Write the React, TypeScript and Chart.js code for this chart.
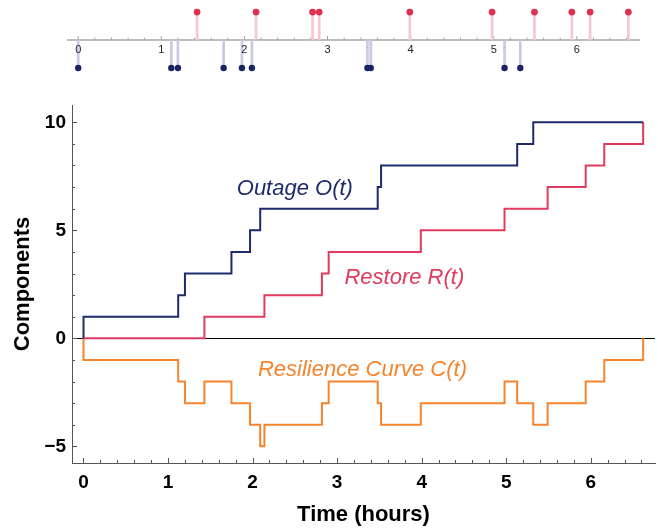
import React, { useEffect, useRef } from 'react';
import { Chart, registerables } from 'chart.js';

Chart.register(...registerables);

// ---- data (hours) ----
const outageTimes = [0, 1.12, 1.2, 1.75, 1.97, 2.09, 3.48, 3.52, 5.13, 5.32];
const restoreTimes = [1.43, 2.14, 2.82, 2.9, 3.99, 4.98, 5.49, 5.94, 6.16, 6.62];

const outageStepTimes = [0, 0, 1.12, 1.2, 1.75, 1.97, 2.09, 3.48, 3.52, 5.13, 5.32, 6.62];
const outageStepValues = [0, 1, 2, 3, 4, 5, 6, 7, 8, 9, 10, 10];

const restoreStepTimes = [0, 1.43, 2.14, 2.82, 2.9, 3.99, 4.98, 5.49, 5.94, 6.16, 6.62];
const restoreStepValues = [0, 1, 2, 3, 4, 5, 6, 7, 8, 9, 10];

const resilienceStepTimes = [0, 0, 1.12, 1.2, 1.43, 1.75, 1.97, 2.09, 2.14, 2.82, 2.9, 3.48, 3.52, 3.99, 4.98, 5.13, 5.32, 5.49, 5.94, 6.16, 6.62];
const resilienceStepValues = [0, -1, -2, -3, -2, -3, -4, -5, -4, -3, -2, -3, -4, -3, -2, -3, -4, -3, -2, -1, 0];

const xTickValues = [0, 1, 2, 3, 4, 5, 6];
const yTickValues = [-5, 0, 5, 10];
const stripTickValues = [0, 1, 2, 3, 4, 5, 6];

const FONT = '"Liberation Sans", Arial, Helvetica, sans-serif';
const NAVY = '#1d2a6b';
const RED = '#e03a5c';
const ORANGE = '#f6842c';
const NAVY_DOT = '#1a2462';
const RED_DOT = '#e0304f';
const NAVY_STEM = '#c7cadf';
const RED_STEM = '#f7c6cf';

const toPoints = (xs: number[], ys: number[]) => xs.map((x, i) => ({ x, y: ys[i] }));

const stripAxisPlugin = {
  id: 'stripAxis',
  beforeDatasetsDraw(chart: any) {
    const { ctx, chartArea, scales } = chart;
    const y0 = scales.y.getPixelForValue(0);
    ctx.save();
    ctx.strokeStyle = '#a6a6a6';
    ctx.lineWidth = 1.3;
    ctx.beginPath();
    ctx.moveTo(chartArea.left, y0);
    ctx.lineTo(chartArea.right, y0);
    ctx.stroke();
    ctx.lineWidth = 1;
    for (let k = 0; k <= 33; k++) {
      const v = k * 0.2;
      const px = scales.x.getPixelForValue(v);
      const len = k % 5 === 0 ? 4 : 2.5;
      ctx.beginPath();
      ctx.moveTo(px, y0);
      ctx.lineTo(px, y0 - len);
      ctx.stroke();
    }
    ctx.restore();
  },
  afterDatasetsDraw(chart: any) {
    const { ctx, scales } = chart;
    const y0 = scales.y.getPixelForValue(0);
    ctx.save();
    ctx.fillStyle = '#222';
    ctx.font = `11px ${FONT}`;
    ctx.textAlign = 'center';
    ctx.textBaseline = 'middle';
    stripTickValues.forEach((v) => {
      ctx.fillText(String(v), scales.x.getPixelForValue(v), y0 + 9.5);
    });
    ctx.restore();
  },
};

const mainDecorPlugin = {
  id: 'mainDecor',
  afterDatasetsDraw(chart: any, _args: any, opts: any) {
    const { ctx, chartArea, scales } = chart;
    ctx.save();
    ctx.font = `italic 22px ${FONT}`;
    ctx.textAlign = 'center';
    ctx.textBaseline = 'middle';
    (opts.labels || []).forEach((l: any) => {
      ctx.fillStyle = l.color;
      ctx.fillText(l.text, scales.x.getPixelForValue(l.x), scales.y.getPixelForValue(l.y));
    });
    // inward tick marks
    ctx.strokeStyle = '#555';
    ctx.lineWidth = 1;
    const b = chartArea.bottom;
    const l = chartArea.left;
    for (let k = 0; k <= 33; k++) {
      const v = k * 0.2;
      const px = Math.round(scales.x.getPixelForValue(v)) + 0.5;
      const len = k % 5 === 0 ? 5 : 3;
      ctx.beginPath();
      ctx.moveTo(px, b);
      ctx.lineTo(px, b - len);
      ctx.stroke();
    }
    for (let v = -5; v <= 10; v++) {
      const py = Math.round(scales.y.getPixelForValue(v)) + 0.5;
      const len = v % 5 === 0 ? 5 : 3;
      ctx.beginPath();
      ctx.moveTo(l, py);
      ctx.lineTo(l + len, py);
      ctx.stroke();
    }
    ctx.restore();
  },
};

export default function App() {
  const stripRef = useRef<HTMLCanvasElement>(null);
  const mainRef = useRef<HTMLCanvasElement>(null);

  useEffect(() => {
    const strip = new Chart(stripRef.current as HTMLCanvasElement, {
      type: 'scatter',
      data: {
        datasets: [
          {
            type: 'scatter',
            data: restoreTimes.map((t) => ({ x: t, y: 1 })),
            pointRadius: 3.4,
            pointBackgroundColor: RED_DOT,
            pointBorderWidth: 0,
            order: 0,
          } as any,
          {
            type: 'scatter',
            data: outageTimes.map((t) => ({ x: t, y: -1 })),
            pointRadius: 3.2,
            pointBackgroundColor: NAVY_DOT,
            pointBorderWidth: 0,
            order: 0,
          } as any,
          {
            type: 'bar',
            data: restoreTimes.map((t) => ({ x: t, y: 1 })),
            backgroundColor: RED_STEM,
            barThickness: 2,
            grouped: false,
            borderWidth: 0,
            order: 1,
          } as any,
          {
            type: 'bar',
            data: outageTimes.map((t) => ({ x: t, y: -1 })),
            backgroundColor: NAVY_STEM,
            barThickness: 2,
            grouped: false,
            borderWidth: 0,
            order: 1,
          } as any,
        ],
      },
      options: {
        responsive: false,
        animation: false,
        events: [],
        layout: { autoPadding: false, padding: { left: 67, right: 18, top: 0, bottom: 0 } },
        plugins: { legend: { display: false }, tooltip: { enabled: false } },
        scales: {
          x: { type: 'linear', display: false, min: -0.135, max: 6.76, offset: false },
          y: { type: 'linear', display: false, min: -1.43, max: 1.43 },
        },
      },
      plugins: [stripAxisPlugin],
    } as any);

    const main = new Chart(mainRef.current as HTMLCanvasElement, {
      type: 'scatter',
      data: {
        datasets: [
          {
            label: 'Outage',
            data: toPoints(outageStepTimes, outageStepValues),
            showLine: true,
            stepped: 'before',
            borderColor: NAVY,
            borderWidth: 2,
            pointRadius: 0,
            fill: false,
          },
          {
            label: 'Restore',
            data: toPoints(restoreStepTimes, restoreStepValues),
            showLine: true,
            stepped: 'before',
            borderColor: RED,
            borderWidth: 2,
            pointRadius: 0,
            fill: false,
          },
          {
            label: 'Resilience',
            data: toPoints(resilienceStepTimes, resilienceStepValues),
            showLine: true,
            stepped: 'before',
            borderColor: ORANGE,
            borderWidth: 2,
            pointRadius: 0,
            fill: false,
          },
        ],
      },
      options: {
        responsive: false,
        animation: false,
        events: [],
        layout: { autoPadding: false, padding: { left: 0, right: 3, top: 25, bottom: 0 } },
        plugins: {
          legend: { display: false },
          tooltip: { enabled: false },
          mainDecor: {
            labels: [
              { text: 'Outage O(t)', x: 2.5, y: 6.91, color: NAVY },
              { text: 'Restore R(t)', x: 3.795, y: 2.79, color: RED },
              { text: 'Resilience Curve C(t)', x: 3.3, y: -1.47, color: ORANGE },
            ],
          },
        },
        scales: {
          x: {
            type: 'linear',
            min: -0.136,
            max: 6.76,
            offset: false,
            grid: { display: false, drawTicks: false },
            border: { display: true, color: '#555', width: 1 },
            ticks: {
              color: '#000',
              font: { family: FONT, size: 19, weight: 'bold' },
              padding: 8,
              maxRotation: 0,
              autoSkip: false,
            },
            afterBuildTicks: (s: any) => {
              s.ticks = xTickValues.map((v) => ({ value: v }));
            },
            afterFit: (s: any) => {
              s.height = 66;
            },
            title: {
              display: true,
              text: 'Time (hours)',
              color: '#000',
              font: { family: FONT, size: 22, weight: 'bold' },
              padding: { top: 0, bottom: 1 },
            },
          },
          y: {
            type: 'linear',
            min: -5.77,
            max: 10.8,
            grid: {
              display: true,
              drawTicks: false,
              lineWidth: 1,
              color: (c: any) => (c.tick && c.tick.value === 0 ? '#000' : 'rgba(0,0,0,0)'),
            },
            border: { display: true, color: '#555', width: 1 },
            ticks: {
              color: '#000',
              font: { family: FONT, size: 19, weight: 'bold' },
              padding: 6,
              callback: (v: any) => (v < 0 ? '\u2212' + Math.abs(v) : String(v)),
            },
            afterBuildTicks: (s: any) => {
              s.ticks = yTickValues.map((v) => ({ value: v }));
            },
            afterFit: (s: any) => {
              s.width = 72;
            },
            title: {
              display: true,
              text: 'Components',
              color: '#000',
              font: { family: FONT, size: 22, weight: 'bold' },
              padding: { top: 10, bottom: 0 },
            },
          },
        },
      },
      plugins: [mainDecorPlugin],
    } as any);

    return () => {
      strip.destroy();
      main.destroy();
    };
  }, []);

  return (
    <div style={{ position: 'absolute', left: 0, top: 0, width: 658, height: 529, background: '#fff' }}>
      <canvas ref={stripRef} width={658} height={80} style={{ position: 'absolute', left: 0, top: 0 }} />
      <canvas ref={mainRef} width={658} height={449} style={{ position: 'absolute', left: 0, top: 80 }} />
    </div>
  );
}
